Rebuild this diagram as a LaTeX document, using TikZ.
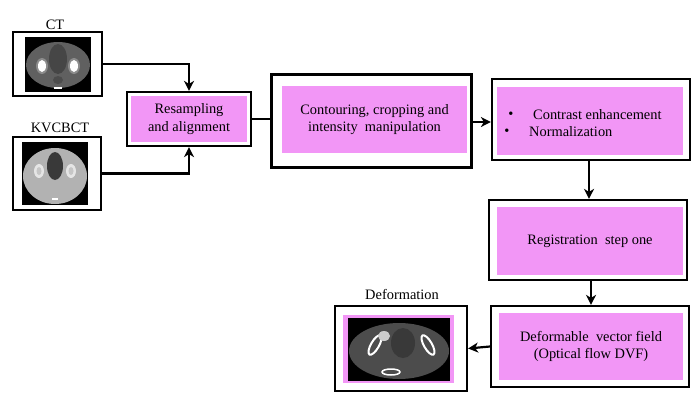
\documentclass[tikz,border=0pt]{standalone}
\usepackage{fontspec}
\setmainfont{Liberation Serif}
\usetikzlibrary{arrows.meta}
\definecolor{boxpink}{RGB}{242,150,246}
\tikzset{
  outerbox/.style={draw=black, line width=2.2pt, fill=white, inner sep=0pt},
  pinkbox/.style={fill=boxpink, inner sep=0pt, align=center, font=\fontsize{14.4}{17.5}\selectfont},
  lbl/.style={font=\fontsize{14.4}{17}\selectfont, inner sep=0pt},
  arr/.style={line width=2.2pt, -{Stealth[length=10pt,width=10pt,inset=3pt]}},
  conn/.style={line width=2.2pt},
}
\begin{document}
\begin{tikzpicture}[x=1pt,y=-1pt]
\useasboundingbox (0,0) rectangle (700,410);
% ---- CT
\node[outerbox, minimum width=89pt, minimum height=64pt] (ct) at (57.5,64) {};
\node[lbl] (ctl) at (55,25) {CT};
\begin{scope}
  \fill[black] (25,37) rectangle (91,92);
  \fill[gray!75!black] (58,65) ellipse [x radius=32, y radius=23];
  \fill[gray!55!black] (58,59) ellipse [x radius=9, y radius=15];
  \fill[gray!90] (42,66) ellipse [x radius=6, y radius=8];
  \fill[white] (42,66) ellipse [x radius=4, y radius=6];
  \fill[gray!90] (74,66) ellipse [x radius=6, y radius=8];
  \fill[white] (74,66) ellipse [x radius=4, y radius=6];
  \fill[black!70] (58,80) ellipse [x radius=5, y radius=4];
  \fill[white] (54,87) rectangle (62,89);
\end{scope}
% ---- KVCBCT
\node[outerbox, minimum width=88pt, minimum height=73pt] (kv) at (57,173.5) {};
\node[lbl] (kvl) at (60,128) {KVCBCT};
\begin{scope}
  \fill[black] (22,142) rectangle (88,205);
  \fill[gray!60] (55,176) ellipse [x radius=32, y radius=28];
  \fill[gray!45!black] (55,166) ellipse [x radius=8, y radius=14];
  \fill[gray!20] (39,171) ellipse [x radius=5, y radius=7];
  \fill[gray!45] (39,171) ellipse [x radius=2.5, y radius=4];
  \fill[gray!20] (71,171) ellipse [x radius=5, y radius=7];
  \fill[gray!45] (71,171) ellipse [x radius=2.5, y radius=4];
  \fill[white] (52,198) rectangle (58,200);
\end{scope}
% ---- Resampling
\node[outerbox, minimum width=124pt, minimum height=54pt] (res) at (189,119) {};
\node[pinkbox, minimum width=116pt, minimum height=46pt] (resi) at (189,119) {Resampling\\and alignment};
% ---- Contouring
\node[outerbox, line width=3pt, minimum width=200pt, minimum height=93pt] (con) at (371,120.5) {};
\node[pinkbox, minimum width=185pt, minimum height=67pt] (coni) at (374.5,119.5) {Contouring, cropping and\\intensity\ \ manipulation};
% ---- Contrast
\node[outerbox, minimum width=198pt, minimum height=81pt] (ctr) at (591,119.5) {};
\node[pinkbox, minimum width=186pt, minimum height=68pt] (ctri) at (590,121) {};
\node[lbl] (b1) at (511,115) {•};
\node[lbl, anchor=west] (t1) at (533,115) {Contrast enhancement};
\node[lbl] (b2) at (507,132) {•};
\node[lbl, anchor=west] (t2) at (529,132) {Normalization};
% ---- Registration
\node[outerbox, minimum width=198pt, minimum height=80pt] (reg) at (588,240) {};
\node[pinkbox, minimum width=186pt, minimum height=68pt] (regi) at (590,241) {Registration\ \ step one};
% ---- DVF
\node[outerbox, minimum width=198pt, minimum height=81pt] (dvf) at (590,346.5) {};
\node[pinkbox, minimum width=184pt, minimum height=67pt] (dvfi) at (591,346.5) {Deformable\ \ vector field\\(Optical flow DVF)};
% ---- Deformation
\node[outerbox, minimum width=132pt, minimum height=85pt] (def) at (401,348.5) {};
\node[lbl] (defl) at (402,294) {Deformation};
\begin{scope}
  \fill[boxpink] (343,315) rectangle (454,383);
  \fill[black] (348,318) rectangle (450,381);
  \fill[gray!60!black] (399,351) ellipse [x radius=50, y radius=28];
  \fill[gray!45!black] (403,343) ellipse [x radius=12, y radius=15];
  \draw[white, line width=2pt, rotate around={-30:(375,345)}] (375,345) ellipse [x radius=4, y radius=11];
  \draw[white, line width=2pt, rotate around={30:(428,345)}] (428,345) ellipse [x radius=4, y radius=11];
  \draw[white, line width=1.5pt] (391,372) ellipse [x radius=9, y radius=3];
  \fill[gray!40] (384,336) ellipse [x radius=6, y radius=5];
\end{scope}
% ---- connectors
\draw[arr] (ct.east) -| (res.north);
\draw[arr] (kv.east) -| (res.south);
\draw[conn] (res.east) -- (con.west |- res.east);
\draw[arr] (con.east |- 0,122) -- (ctr.west |- 0,122);
\draw[arr] (ctr.south -| 589,0) -- (reg.north -| 589,0);
\draw[arr] (reg.south -| 591,0) -- (dvf.north -| 591,0);
\draw[arr] (dvf.west) -- (def.east);
\end{tikzpicture}
\end{document}
